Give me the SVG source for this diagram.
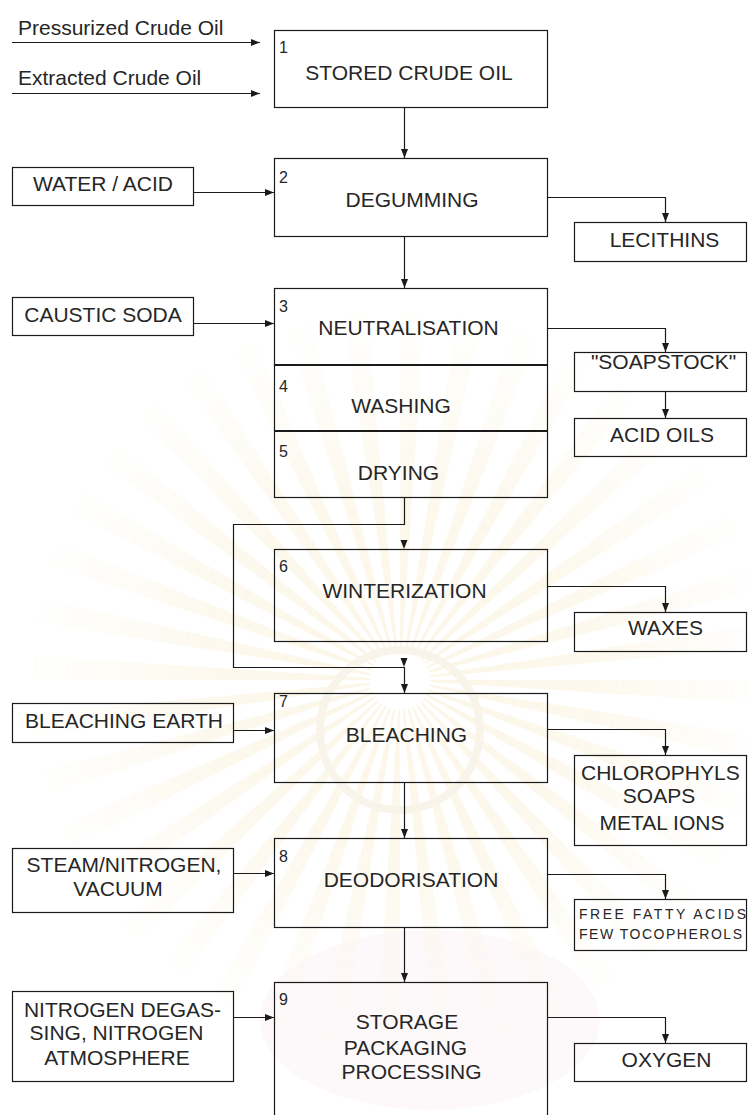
<svg xmlns="http://www.w3.org/2000/svg" width="748" height="1115" viewBox="0 0 748 1115">
<style>
  .box{fill:none;stroke:#1a1a1a;stroke-width:1.2}
  .sep{stroke:#1a1a1a;stroke-width:2.2}
  .ln{fill:none;stroke:#1a1a1a;stroke-width:1.2}
  .arr{marker-end:url(#ah)}
  text{font-family:"Liberation Sans",Arial,sans-serif;fill:#262626}
  .t{font-size:21px}
  .c{text-anchor:middle}
  .n{font-size:16px}
  .s{font-size:14px}
</style>
<defs>
  <marker id="ah" markerUnits="userSpaceOnUse" markerWidth="10" markerHeight="8" refX="9" refY="3.5" orient="auto">
    <path d="M0,0 L9,3.5 L0,7 z" fill="#1a1a1a"/>
  </marker>
  <path id="tipDown" d="M-3.5,-9 L3.5,-9 L0,0 z" fill="#1a1a1a"/>
  <radialGradient id="fadeG" cx="0.5" cy="0.5" r="0.5">
    <stop offset="0" stop-color="#fff"/>
    <stop offset="0.5" stop-color="#fff" stop-opacity="0.7"/>
    <stop offset="1" stop-color="#fff" stop-opacity="0"/>
  </radialGradient>
  <mask id="fade" maskUnits="userSpaceOnUse" x="0" y="0" width="748" height="1115">
    <circle cx="400" cy="680" r="380" fill="url(#fadeG)"/>
  </mask>
</defs>

<!-- faint seal in the background -->
<g id="seal" opacity="0.16">
  <circle cx="400" cy="680" r="200" fill="none" stroke="#e8c766" stroke-width="340" stroke-dasharray="13 18.416" mask="url(#fade)"/>
  <circle cx="400" cy="730" r="80" fill="none" stroke="#d9bd7a" stroke-width="8"/>
  <ellipse cx="430" cy="1020" rx="170" ry="90" fill="#e9b9c6" opacity="0.5"/>
</g>

<!-- feed streams -->
<g id="feeds">
  <text class="t" x="18" y="35">Pressurized Crude Oil</text>
  <text class="t" x="18" y="85">Extracted Crude Oil</text>
</g>

<!-- process steps -->
<g id="step1">
  <rect class="box" x="274.5" y="30.5" width="273" height="77"/>
  <text class="n" x="279" y="53">1</text>
  <text class="t c" x="409" y="80">STORED CRUDE OIL</text>
</g>
<g id="step2">
  <rect class="box" x="274.5" y="158.5" width="273" height="78"/>
  <text class="n" x="279" y="183">2</text>
  <text class="t c" x="412" y="207">DEGUMMING</text>
</g>
<g id="step3to5">
  <rect class="box" x="274.5" y="288.5" width="273" height="209"/>
  <line class="sep" x1="274.5" y1="365" x2="547.5" y2="365"/>
  <line class="sep" x1="274.5" y1="431" x2="547.5" y2="431"/>
  <text class="n" x="279" y="312">3</text>
  <text class="t c" x="408.5" y="335">NEUTRALISATION</text>
  <text class="n" x="279" y="392">4</text>
  <text class="t c" x="401" y="413">WASHING</text>
  <text class="n" x="279" y="457">5</text>
  <text class="t c" x="398.5" y="480">DRYING</text>
</g>
<g id="step6">
  <rect class="box" x="274.5" y="549.5" width="273" height="92"/>
  <text class="n" x="279" y="572">6</text>
  <text class="t c" x="404.5" y="598">WINTERIZATION</text>
</g>
<g id="step7">
  <rect class="box" x="274.5" y="693.5" width="273" height="89"/>
  <text class="n" x="279" y="707">7</text>
  <text class="t c" x="406.5" y="742">BLEACHING</text>
</g>
<g id="step8">
  <rect class="box" x="274.5" y="838.5" width="273" height="89"/>
  <text class="n" x="279" y="862">8</text>
  <text class="t c" x="411" y="887">DEODORISATION</text>
</g>
<g id="step9">
  <rect class="box" x="274.5" y="982.5" width="273" height="150"/>
  <text class="n" x="279" y="1005">9</text>
  <text class="t c" x="407" y="1029">STORAGE</text>
  <text class="t c" x="405.5" y="1055">PACKAGING</text>
  <text class="t c" x="411.5" y="1079">PROCESSING</text>
</g>

<!-- added agents -->
<g id="in-water-acid">
  <rect class="box" x="12.5" y="167.5" width="181" height="38"/>
  <text class="t c" x="103" y="191">WATER / ACID</text>
</g>
<g id="in-caustic-soda">
  <rect class="box" x="12.5" y="297.5" width="181" height="38"/>
  <text class="t c" x="103" y="322">CAUSTIC SODA</text>
</g>
<g id="in-bleaching-earth">
  <rect class="box" x="12.5" y="703.5" width="221" height="39"/>
  <text class="t c" x="124" y="728">BLEACHING EARTH</text>
</g>
<g id="in-steam">
  <rect class="box" x="12.5" y="848.5" width="221" height="64"/>
  <text class="t c" x="124" y="872">STEAM/NITROGEN,</text>
  <text class="t c" x="118" y="896">VACUUM</text>
</g>
<g id="in-nitrogen">
  <rect class="box" x="12.5" y="991.5" width="221" height="90"/>
  <text class="t c" x="122.5" y="1017">NITROGEN DEGAS-</text>
  <text class="t c" x="116.5" y="1040">SING, NITROGEN</text>
  <text class="t c" x="117" y="1065">ATMOSPHERE</text>
</g>

<!-- removed by-products -->
<g id="out-lecithins">
  <rect class="box" x="574.5" y="222.5" width="172" height="39"/>
  <text class="t c" x="664.5" y="247">LECITHINS</text>
</g>
<g id="out-soapstock">
  <rect class="box" x="574.5" y="352.5" width="172" height="39"/>
  <text class="t c" x="663.5" y="369">"SOAPSTOCK"</text>
</g>
<g id="out-acid-oils">
  <rect class="box" x="574.5" y="418.5" width="172" height="38"/>
  <text class="t c" x="662" y="442">ACID OILS</text>
</g>
<g id="out-waxes">
  <rect class="box" x="574.5" y="612.5" width="172" height="39"/>
  <text class="t c" x="665.5" y="635">WAXES</text>
</g>
<g id="out-chlorophyls">
  <rect class="box" x="574.5" y="755.5" width="172" height="90"/>
  <text class="t" x="581" y="780">CHLOROPHYLS</text>
  <text class="t c" x="659" y="803">SOAPS</text>
  <text class="t c" x="662" y="830">METAL IONS</text>
</g>
<g id="out-ffa">
  <rect class="box" x="574.5" y="899.5" width="172" height="51"/>
  <text class="s" x="579" y="919" textLength="167" lengthAdjust="spacing">FREE FATTY ACIDS</text>
  <text class="s" x="579" y="939" textLength="163" lengthAdjust="spacing">FEW TOCOPHEROLS</text>
</g>
<g id="out-oxygen">
  <rect class="box" x="574.5" y="1043.5" width="172" height="38"/>
  <text class="t c" x="666.5" y="1067">OXYGEN</text>
</g>

<!-- connectors -->
<g id="connectors">
  <path class="ln arr" d="M12,42.5 H260"/>
  <path class="ln arr" d="M12,93.5 H260"/>
  <path class="ln arr" d="M404.5,107 V158"/>
  <path class="ln arr" d="M193,192.5 H274"/>
  <path class="ln arr" d="M547,197.5 H665.5 V222"/>
  <path class="ln arr" d="M404.5,236 V288"/>
  <path class="ln arr" d="M193,323.5 H274"/>
  <path class="ln arr" d="M547,328.5 H665.5 V352"/>
  <path class="ln arr" d="M665.5,391 V418"/>
  <path class="ln" d="M404.5,497 V524.5 H233.5 V667.5 H404.5"/>
  <use href="#tipDown" x="404" y="549"/>
  <use href="#tipDown" x="404" y="667"/>
  <path class="ln arr" d="M404.5,667 V693"/>
  <path class="ln arr" d="M547,586.5 H665.5 V612"/>
  <path class="ln arr" d="M233,730.5 H274"/>
  <path class="ln arr" d="M547,729.5 H665.5 V755"/>
  <path class="ln arr" d="M404.5,782 V838"/>
  <path class="ln arr" d="M233,873.5 H274"/>
  <path class="ln arr" d="M547,874.5 H665.5 V899"/>
  <path class="ln arr" d="M404.5,927 V982"/>
  <path class="ln arr" d="M233,1017.5 H274"/>
  <path class="ln arr" d="M547,1017.5 H665.5 V1043"/>
</g>
</svg>
